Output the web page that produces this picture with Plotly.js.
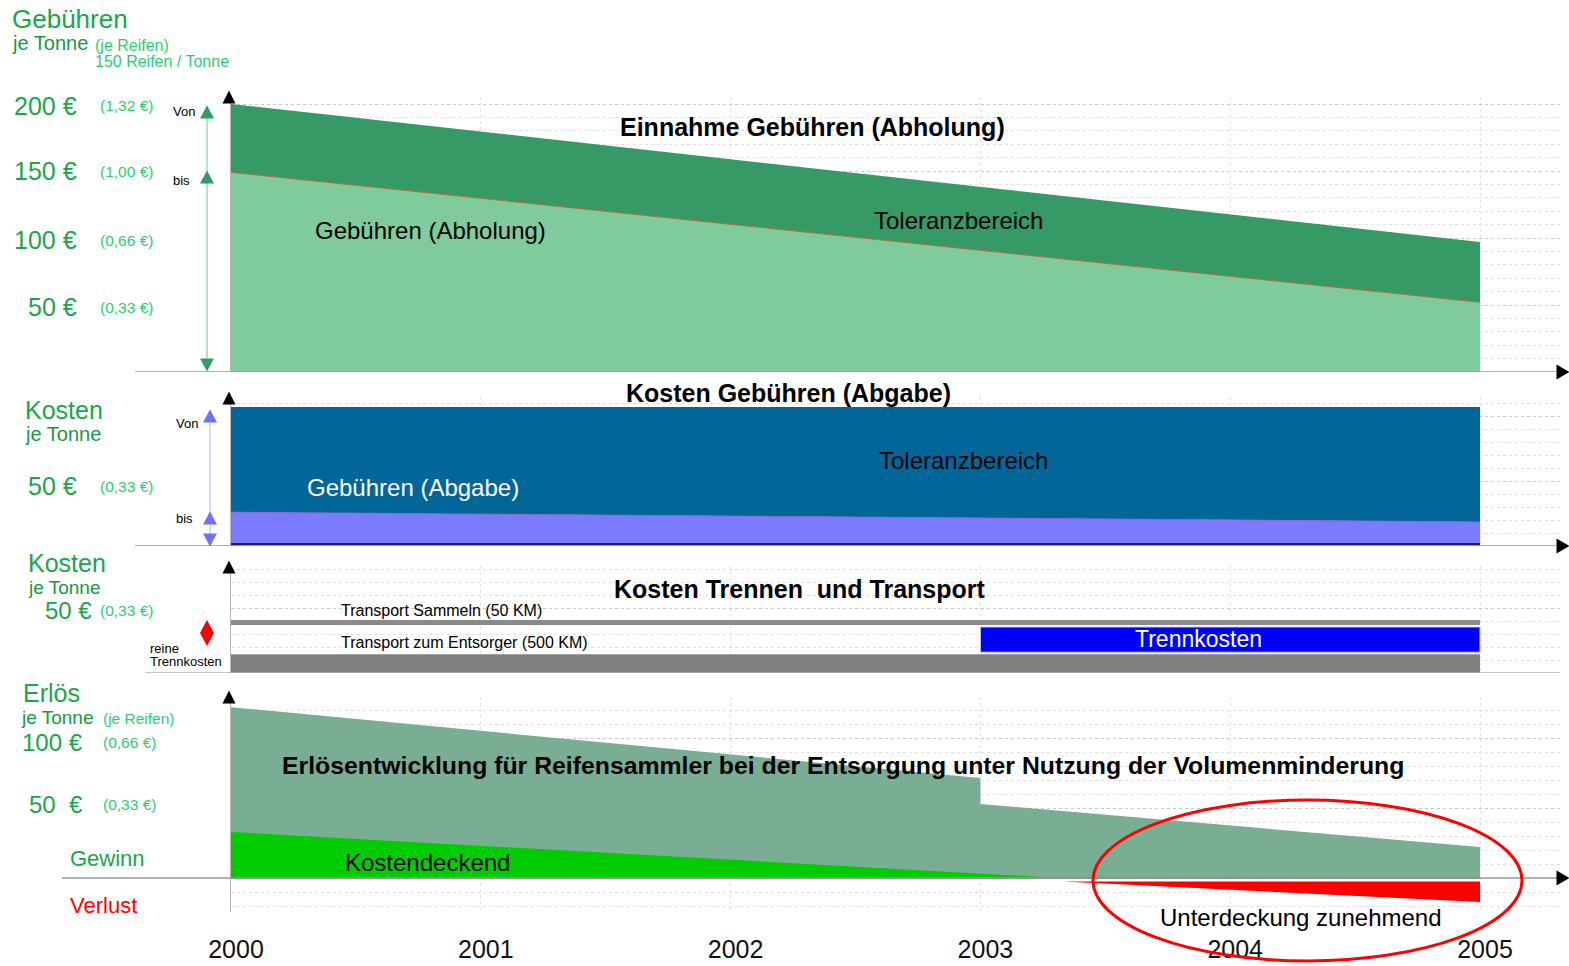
<!DOCTYPE html>
<html><head><meta charset="utf-8">
<script src="https://cdn.plot.ly/plotly-3.0.1.min.js"></script>
<style>html,body{margin:0;padding:0;background:#fff}</style>
</head><body><div id="chart" style="width:1569px;height:966px"></div>
<script>
// ================= DATA =================
const years = [2000, 2001, 2002, 2003, 2004, 2005];
const yearLabels = ['2000', '2001', '2002', '2003', '2004', '2005'];

// Panel 1: Einnahme Gebühren (Abholung), € je Tonne
const abholX = [2000, 2005];
const abholBis = [149, 52];     // Gebühren (Abholung) – untere Grenze
const abholVon = [200, 97];     // Toleranzbereich – obere Grenze
const p1Ticks = [200, 150, 100, 50];
const p1Labels = ['200 €', '150 €', '100 €', '50 €'];
const p1Sub = ['(1,32 €)', '(1,00 €)', '(0,66 €)', '(0,33 €)'];

// Panel 2: Kosten Gebühren (Abgabe)
const abgabeX = [2000, 2005];
const abgabeBis = [26, 18.5];
const abgabeVon = [107, 107];
const p2Ticks = [50];
const p2Labels = ['50 €'];
const p2Sub = ['(0,33 €)'];

// Panel 3: Kosten Trennen und Transport (Balken)
const p3Names = ['Transport zum Entsorger', 'Trennkosten', 'Transport Sammeln'];
const p3Start = [2000, 2003, 2000];
const p3End = [2005, 2005, 2005];
const p3Low = [0, 16, 37];
const p3High = [14.5, 35.4, 40.8];
const p3Ticks = [50];
const p3Labels = ['50 €'];
const p3Sub = ['(0,33 €)'];

// Panel 4: Erlösentwicklung
const erlosX = [2000, 2003, 2003, 2005];
const erlosY = [122, 71.4, 52.9, 22.1];
const gewinnX = [2000, 2003.32];
const gewinnY = [32.9, 0];
const verlustX = [2003.33, 2005, 2005, 2003.33];
const verlustY = [-2.5, -2.5, -17.1, -2.5];
const p4Ticks = [100, 50];
const p4Labels = ['100 €', '50\u00a0\u00a0€'];
const p4Sub = ['(0,66 €)', '(0,33 €)'];

// ================= LAYOUT HELPERS =================
const W = 1569, H = 966;
const FONT = 'Liberation Sans, Arial, Helvetica, sans-serif';
const X0PX = 231, X1PX = 1480;                  // pixel of 2000 / 2005
const pxPerYear = (X1PX - X0PX) / 5;
const xRightPx = 1560;
const xMax = 2000 + (xRightPx - X0PX) / pxPerYear;

const P = {
  y:  {zero: 372, s: 1.34, top: 97,  bot: 372, major: [50, 100, 150, 200]},
  y2: {zero: 546, s: 1.30, top: 397, bot: 546, major: [50, 100]},
  y3: {zero: 673, s: 1.30, top: 566, bot: 673, major: [50]},
  y4: {zero: 878, s: 1.40, top: 697, bot: 912, major: [50, 100]}
};
const valOf = (k, py) => (P[k].zero - py) / P[k].s;

function yax(k) {
  const g = P[k];
  return {
    domain: [1 - g.bot / H, 1 - g.top / H],
    range: [valOf(k, g.bot), valOf(k, g.top)],
    anchor: 'x', showline: true, linecolor: '#b5b5b5', linewidth: 1,
    zeroline: false, showticklabels: false, ticks: '',
    tickmode: 'array', tickvals: g.major,
    showgrid: true, gridcolor: '#c8c8c8', griddash: 'dot', gridwidth: 1,
    minor: {tickmode: 'linear', tick0: 0, dtick: 10, showgrid: true,
            gridcolor: '#e0e0e0', griddash: 'dot', gridwidth: 1, ticks: ''},
    fixedrange: true
  };
}

const traces = [];
// ---- Panel 1 ----
traces.push({x: abholX, y: abholBis, yaxis: 'y', type: 'scatter', mode: 'lines',
  fill: 'tozeroy', fillcolor: '#80cb9b', line: {color: '#b86a3c', width: 1}});
traces.push({x: abholX, y: abholVon, yaxis: 'y', type: 'scatter', mode: 'lines',
  fill: 'tonexty', fillcolor: '#359a66', line: {width: 0, color: '#359a66'}});
// ---- Panel 2 ----
traces.push({x: abgabeX, y: abgabeBis, yaxis: 'y2', type: 'scatter', mode: 'lines',
  fill: 'tozeroy', fillcolor: '#7b7bff', line: {color: '#8a6ad0', width: 1}});
traces.push({x: abgabeX, y: abgabeVon, yaxis: 'y2', type: 'scatter', mode: 'lines',
  fill: 'tonexty', fillcolor: '#036699', line: {width: 0, color: '#036699'}});
traces.push({x: abgabeX, y: [1.5, 1.5], yaxis: 'y2', type: 'scatter', mode: 'lines',
  line: {color: '#1a1a7a', width: 2}});
// ---- Panel 3 (horizontal bars) ----
const p3Colors = ['#808080', '#0000ff', '#8a8a8a'];
p3Names.forEach((n, i) => {
  traces.push({type: 'bar', orientation: 'h', yaxis: 'y3', name: n,
    y: [(p3Low[i] + p3High[i]) / 2], x: [p3End[i] - p3Start[i]], base: [p3Start[i]],
    width: [p3High[i] - p3Low[i]],
    marker: {color: p3Colors[i], line: {width: i === 1 ? 1 : 0, color: '#c8c8ff'}}});
});
// ---- Panel 4 ----
traces.push({x: erlosX, y: erlosY, yaxis: 'y4', type: 'scatter', mode: 'lines',
  fill: 'tozeroy', fillcolor: '#7aae94', line: {width: 0, color: '#7aae94'}});
traces.push({x: [2000, 2005], y: [0, 0], yaxis: 'y4', type: 'scatter', mode: 'lines',
  line: {color: '#3d6b50', width: 1.5}});
traces.push({x: gewinnX, y: gewinnY, yaxis: 'y4', type: 'scatter', mode: 'lines',
  fill: 'tozeroy', fillcolor: '#00cc00', line: {width: 0, color: '#00cc00'}});
traces.push({x: verlustX, y: verlustY, yaxis: 'y4', type: 'scatter', mode: 'lines',
  fill: 'toself', fillcolor: '#ff0000', line: {width: 0, color: '#ff0000'}});

// ================= ANNOTATIONS =================
const GREEN = '#1aa64a', LIGHT = '#2ecc71';
const ann = [];
function T(text, px, py, size, opt = {}) {
  ann.push(Object.assign({text, x: px / W, y: 1 - py / H, xref: 'paper', yref: 'paper',
    xanchor: opt.anchor || 'left', yanchor: 'middle', showarrow: false,
    font: {family: FONT, size, color: opt.color || '#000'}}, opt.extra || {}));
}
function tickAnn(k, vals, labels, subs, rMain, rSub, mainSize, shifts) {
  vals.forEach((v, i) => {
    const ys = shifts ? shifts[i] : 0;
    ann.push({text: labels[i], x: rMain / W, xref: 'paper', y: v, yref: k, xanchor: 'right',
      yanchor: 'middle', showarrow: false, yshift: ys, font: {family: FONT, size: mainSize, color: GREEN}});
    ann.push({text: subs[i], x: rSub / W, xref: 'paper', y: v, yref: k, xanchor: 'right',
      yanchor: 'middle', showarrow: false, yshift: ys, font: {family: FONT, size: 15.5, color: LIGHT}});
  });
}
// panel 1
T('Gebühren', 10, 19, 26, {color: GREEN});
T('je Tonne', 10, 43, 20, {color: '#17983f'});
T('(je Reifen)', 93, 45, 16, {color: LIGHT});
T('150 Reifen / Tonne', 93, 61, 16, {color: LIGHT});
tickAnn('y', p1Ticks, p1Labels, p1Sub, 79, 155, 25, [-2, 0, -2, -2]);
T('Von', 171, 112, 13); T('bis', 171, 180, 13);
T('<b>Einnahme Gebühren (Abholung)</b>', 813, 127, 25, {anchor: 'center'});
T('Toleranzbereich', 958, 220, 24, {anchor: 'center'});
T('Gebühren (Abholung)', 313, 230, 24);
// panel 2
T('Kosten', 23, 410, 25, {color: GREEN});
T('je Tonne', 23, 434, 20, {color: '#17983f'});
tickAnn('y2', p2Ticks, p2Labels, p2Sub, 79, 155, 25, [-5]);
T('Von', 174, 423, 13); T('bis', 174, 518, 13);
T('<b>Kosten Gebühren (Abgabe)</b>', 788, 393, 25, {anchor: 'center'});
T('Toleranzbereich', 963, 460, 24, {anchor: 'center'});
T('Gebühren (Abgabe)', 305, 487, 24, {color: '#ffffff'});
// panel 3
T('Kosten', 26, 563, 25, {color: GREEN});
T('je Tonne', 26, 587, 19, {color: '#17983f'});
tickAnn('y3', p3Ticks, p3Labels, p3Sub, 94, 155, 24, [-2]);
T('reine', 148, 648, 13); T('Trennkosten', 148, 661, 13);
T('<b>Kosten Trennen \u00a0und Transport</b>', 800, 589, 25, {anchor: 'center'});
T('Transport Sammeln (50 KM)', 339, 610, 16);
T('Transport zum Entsorger (500 KM)', 339, 642, 16);
T('Trennkosten', 1198, 639, 23, {anchor: 'center', color: '#ffffff'});
// panel 4
T('Erlös', 21, 693, 25, {color: GREEN});
T('je Tonne', 19, 717, 19, {color: '#17983f'});
T('(je Reifen)', 101, 718, 15.5, {color: LIGHT});
tickAnn('y4', p4Ticks, p4Labels, p4Sub, 85, 158, 24, [-4, 4]);
T('Gewinn', 68, 858, 22, {color: GREEN});
T('Verlust', 68, 905, 22, {color: '#ff0000'});
T('<b>Erlösentwicklung für Reifensammler bei der Entsorgung unter Nutzung der Volumenminderung</b>', 280, 765, 24.8);
T('Kostendeckend', 343, 862, 24);
T('Unterdeckung zunehmend', 1158, 917, 24);

// ================= SHAPES (decorations in paper space) =================
const X = px => px / W, Y = py => 1 - py / H;
function tri(cx, cy, w, h, dir, color) {
  let pts;
  if (dir === 'up') pts = [[cx, cy - h / 2], [cx + w / 2, cy + h / 2], [cx - w / 2, cy + h / 2]];
  else if (dir === 'down') pts = [[cx, cy + h / 2], [cx + w / 2, cy - h / 2], [cx - w / 2, cy - h / 2]];
  else pts = [[cx + w / 2, cy], [cx - w / 2, cy - h / 2], [cx - w / 2, cy + h / 2]];
  return {type: 'path', xref: 'paper', yref: 'paper', layer: 'above',
    path: 'M' + pts.map(p => X(p[0]) + ',' + Y(p[1])).join(' L') + ' Z',
    fillcolor: color, line: {width: 0}};
}
function vline(px, py0, py1, color) {
  return {type: 'line', xref: 'paper', yref: 'paper', x0: X(px), x1: X(px), y0: Y(py0), y1: Y(py1),
    line: {color, width: 1}};
}
const shapes = [
  {type: 'line', xref: 'paper', yref: 'y',  x0: X(135), x1: X(xRightPx), y0: 0, y1: 0, line: {color: '#9a9a9a', width: 1.5}},
  {type: 'line', xref: 'paper', yref: 'y2', x0: X(135), x1: X(xRightPx), y0: 0, y1: 0, line: {color: '#9a9a9a', width: 1.5}},
  {type: 'line', xref: 'paper', yref: 'y3', x0: X(145), x1: X(xRightPx), y0: 0, y1: 0, line: {color: '#b0b0b0', width: 1.5}},
  {type: 'line', xref: 'paper', yref: 'y4', x0: X(62),  x1: X(xRightPx), y0: 0, y1: 0, line: {color: '#9a9a9a', width: 1.5}},
  {type: 'circle', xref: 'paper', yref: 'paper', x0: X(1093), x1: X(1522), y0: Y(961), y1: Y(800),
   line: {color: '#ff0000', width: 3}},
  // axis arrows
  tri(229, 97, 13, 13, 'up', '#000'), tri(229, 398, 13, 13, 'up', '#000'),
  tri(229, 567, 13, 13, 'up', '#000'), tri(229, 697, 13, 13, 'up', '#000'),
  tri(1563, 372, 13, 15, 'right', '#000'), tri(1563, 546, 13, 15, 'right', '#000'),
  tri(1563, 878, 13, 15, 'right', '#000'),
  // Von / bis markers panel 1
  vline(207, 106, 368, '#6cc495'),
  tri(207, 112, 14, 13, 'up', '#2f9e62'), tri(207, 177, 14, 13, 'up', '#2f9e62'),
  tri(207, 365, 14, 13, 'down', '#2f9e62'),
  // Von / bis markers panel 2
  vline(210, 410, 545, '#b4b4ff'),
  tri(210, 416, 14, 13, 'up', '#7070ff'), tri(210, 518, 14, 13, 'up', '#7070ff'),
  tri(210, 540, 14, 13, 'down', '#7070ff'),
  // red diamond panel 3
  {type: 'path', xref: 'paper', yref: 'paper', layer: 'above',
   path: `M${X(207)},${Y(620)} L${X(214)},${Y(633)} L${X(207)},${Y(646)} L${X(200)},${Y(633)} Z`,
   fillcolor: '#ff0000', line: {width: 0}}
];

const layout = {
  width: W, height: H, margin: {l: 0, r: 0, t: 0, b: 0, pad: 0},
  paper_bgcolor: '#ffffff', plot_bgcolor: 'rgba(0,0,0,0)',
  showlegend: false, hovermode: false, barmode: 'overlay',
  xaxis: {domain: [X0PX / W, xRightPx / W], range: [2000, xMax], anchor: 'y4',
    tickmode: 'array', tickvals: years, ticktext: yearLabels, ticks: '',
    tickfont: {family: FONT, size: 25, color: '#111'}, ticklabelstandoff: 20, ticklabelshift: 5,
    showline: false, zeroline: false, showgrid: true, gridcolor: '#e2e2e2', griddash: 'dot', gridwidth: 1,
    fixedrange: true},
  yaxis: yax('y'), yaxis2: yax('y2'), yaxis3: yax('y3'), yaxis4: yax('y4'),
  annotations: ann, shapes: shapes
};

Plotly.newPlot('chart', traces, layout, {staticPlot: true, displayModeBar: false});
</script>
</body></html>
